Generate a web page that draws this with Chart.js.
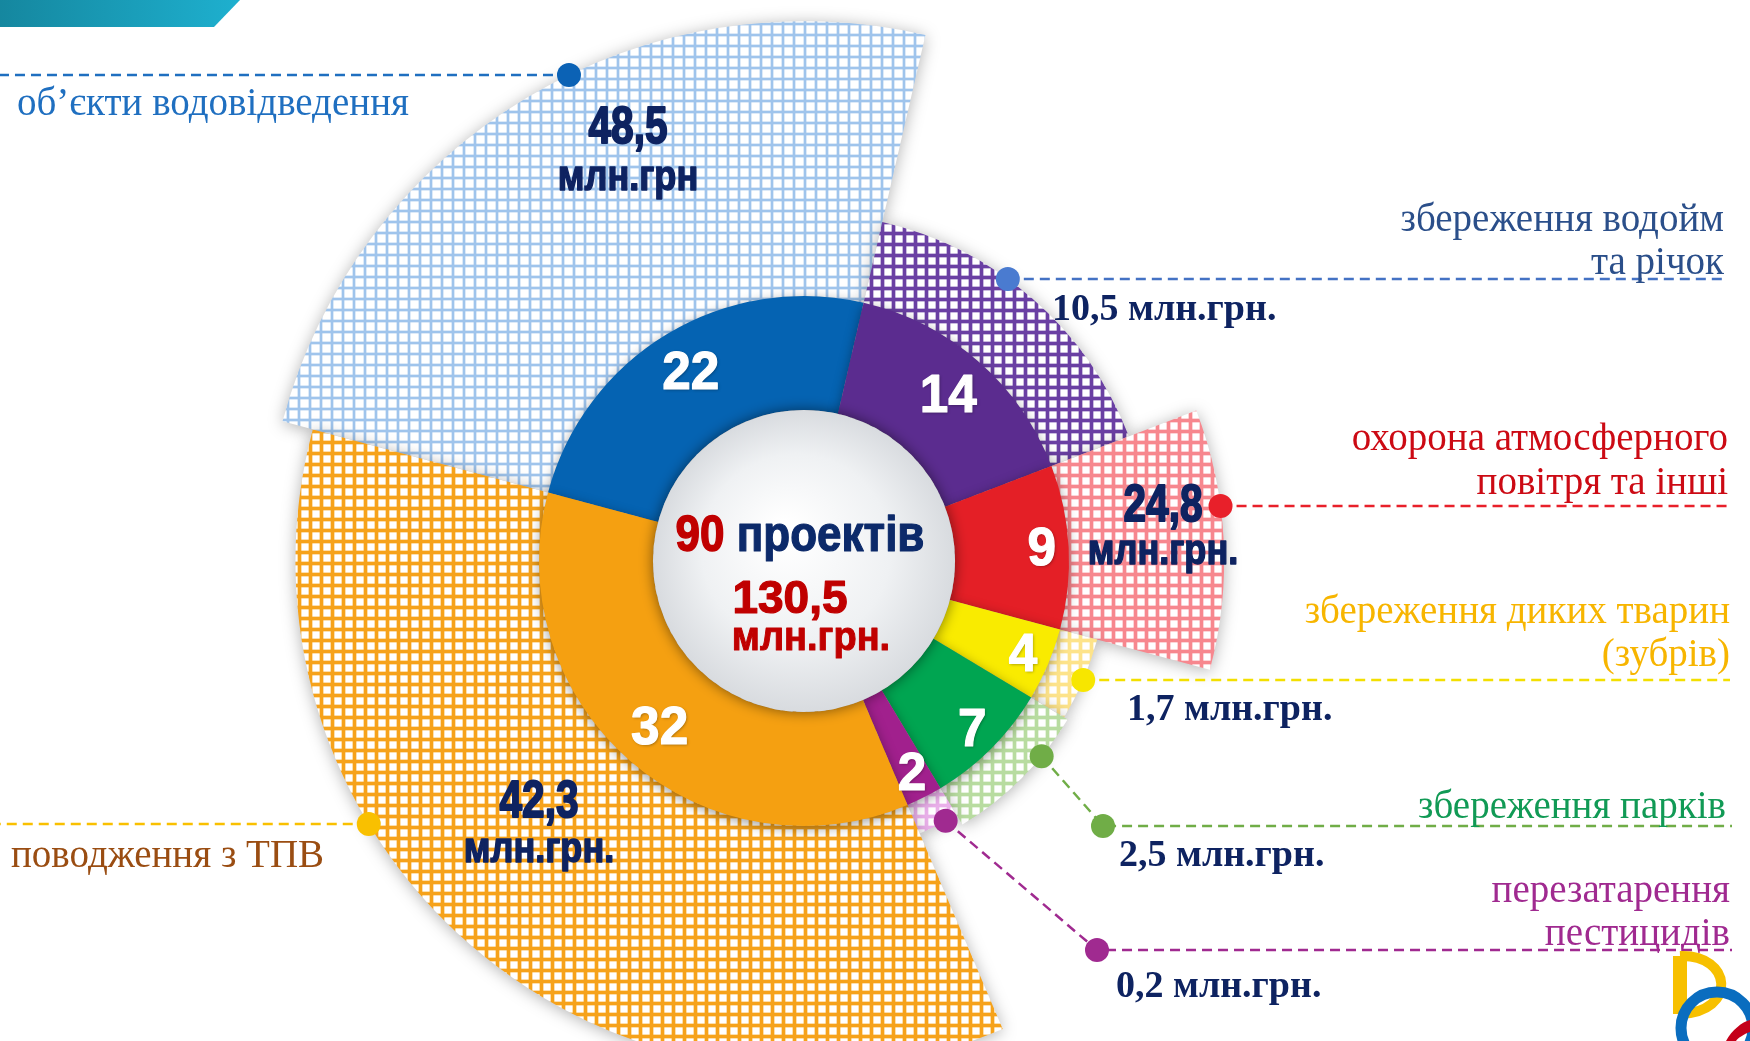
<!DOCTYPE html>
<html lang="uk">
<head>
<meta charset="utf-8">
<title>Проекти та фінансування</title>
<script src="https://cdn.jsdelivr.net/npm/chart.js@4.4.1/dist/chart.umd.min.js"></script>
<style>
  html, body { margin: 0; padding: 0; background: #ffffff; overflow: hidden; }
  #stage { position: relative; width: 1750px; height: 1041px; overflow: hidden; background: #ffffff; }
  .layer { position: absolute; left: 0; top: 0; width: 1750px; height: 1041px; }
  #banner { position: absolute; left: 0; top: 0; width: 240px; height: 27px;
            background: linear-gradient(90deg, #15879f 0%, #1eb0cf 100%);
            clip-path: polygon(0 0, 240px 0, 214px 27px, 0 27px); }
  #logo { position: absolute; left: 1660px; top: 940px; }
</style>
</head>
<body>
<div id="stage">
  <div class="layer"><canvas id="fundingChart" width="1750" height="1041"></canvas></div>
  <div class="layer"><canvas id="projectsChart" width="1750" height="1041"></canvas></div>
  <div id="banner"></div>
  <svg id="logo" width="90" height="101" viewBox="0 0 90 101">
    <path d="M20 16 L20 74" stroke="#f7c000" stroke-width="14" fill="none"/>
    <path d="M20 16 C 72 14, 78 72, 20 74" stroke="#f7c000" stroke-width="10" fill="none"/>
    <circle cx="57" cy="88" r="36" stroke="#0a6dbf" stroke-width="11" fill="none"/>
    <path d="M66 101 C 72 90, 82 82, 90 80 L 90 92 C 84 94, 78 98, 76 101 Z" fill="#c4001a"/>
  </svg>
</div>
<script>
// Environmental programme: number of projects and funding (mln UAH) by direction
const categoryLines = [
  ['об’єкти водовідведення'],
  ['збереження водойм', 'та річок'],
  ['охорона атмосферного', 'повітря та інші'],
  ['збереження диких тварин', '(зубрів)'],
  ['збереження парків'],
  ['перезатарення', 'пестицидів'],
  ['поводження з ТПВ']
];
const projectCounts = [22, 14, 9, 4, 7, 2, 32];
const fundingMln = [48.5, 10.5, 24.8, 1.7, 2.5, 0.2, 42.3];
const unitLabels = ['млн.грн', 'млн.грн.', 'млн.грн.', 'млн.грн.', 'млн.грн.', 'млн.грн.', 'млн.грн.'];
const projectsWord = 'проектів';
const totalUnit = 'млн.грн.';

const totalProjects = projectCounts.reduce((a, b) => a + b, 0);
const totalFunding = fundingMln.reduce((a, b) => a + b, 0);
const fmt = v => v.toFixed(1).replace('.', ',');

// ---- styling ----
const ROTATION = -75;
const SERIF = '"Liberation Serif", "DejaVu Serif", serif';
const SANS = '"Liberation Sans", Arial, sans-serif';
const NAVY = '#0e2361';
const ringColors = ['#0563b2', '#5b2c8f', '#e41f26', '#f9eb00', '#00a551', '#a1208d', '#f5a011'];
const hatchColors = [['#9fc4ec', 2], ['#6a3fa3', 3], ['#f7878e', 3], ['#fde38a', 3], ['#b8dca0', 3], ['#eab0ea', 3], ['#f6a21a', 3]];
const chartPadding = { left: 324, right: 466, top: 81, bottom: 0 };

function hatch(color, lw) {
  const s = 11;
  const c = document.createElement('canvas');
  c.width = s; c.height = s;
  const g = c.getContext('2d');
  g.fillStyle = '#ffffff';
  g.fillRect(0, 0, s, s);
  g.fillStyle = color;
  g.globalAlpha = 0.35;
  g.fillRect(0, 0, s, lw + 2);
  g.fillRect(0, 0, lw + 2, s);
  g.globalAlpha = 1;
  g.fillRect(0, 1, s, lw);
  g.fillRect(1, 0, lw, s);
  return g.createPattern(c, 'repeat');
}

// draws a string, optionally squeezed horizontally and thickened with a stroke
function text(ctx, str, x, y, font, color, align, sx, baseline, heavy) {
  ctx.save();
  ctx.font = font;
  ctx.fillStyle = color;
  ctx.textAlign = align || 'left';
  ctx.textBaseline = baseline || 'alphabetic';
  ctx.translate(x, y);
  ctx.scale(sx || 1, 1);
  ctx.fillText(str, 0, 0);
  if (heavy) {
    ctx.shadowColor = 'transparent';
    ctx.strokeStyle = color;
    ctx.lineWidth = heavy;
    ctx.lineJoin = 'round';
    ctx.strokeText(str, 0, 0);
  }
  ctx.restore();
}

// leader lines, category names and amount captions around the outer sectors
const leaderLayout = [
  { anchorY: 75, side: 'left', lineEnd: 0, line: '#1f6fc0', dot: '#0b62b5',
    name: { x: 17, ys: [115], align: 'left', color: '#1f6fc0' },
    amount: { inside: true, x: 628, y: 143, y2: 190 } },
  { anchorY: 279, side: 'right', lineEnd: 1726, line: '#4472c4', dot: '#4a7bd0',
    name: { x: 1724, ys: [231, 274], align: 'right', color: '#2b4f8a' },
    amount: { x: 1052, y: 320 } },
  { anchorY: 506, side: 'right', lineEnd: 1732, line: '#e8202a', dot: '#e8202a',
    name: { x: 1728, ys: [450, 494], align: 'right', color: '#cc0a14' },
    amount: { inside: true, x: 1163, y: 521, y2: 564 } },
  { anchorY: 680, side: 'right', lineEnd: 1730, line: '#f3df00', dot: '#f7e600',
    name: { x: 1730, ys: [623, 666], align: 'right', color: '#f7b500' },
    amount: { x: 1127, y: 720 } },
  { anchorFrac: 0.3, elbow: { x: 1103, y: 826 }, lineEnd: 1732, line: '#70ad47', dot: '#70ad47',
    name: { x: 1726, ys: [818], align: 'right', color: '#119a55' },
    amount: { x: 1119, y: 866 } },
  { anchorFrac: 0.3, elbow: { x: 1097, y: 950 }, lineEnd: 1732, line: '#a02a90', dot: '#a02a90',
    name: { x: 1730, ys: [902, 945], align: 'right', color: '#a02a90' },
    amount: { x: 1116, y: 997 } },
  { anchorY: 824, side: 'left', lineEnd: 0, line: '#f9c000', dot: '#f9c000',
    name: { x: 11, ys: [867], align: 'left', color: '#9a4d12' },
    amount: { inside: true, x: 539, y: 817, y2: 862 } }
];

const sectorShadow = {
  id: 'sectorShadow',
  beforeDatasetsDraw(chart) {
    const c = chart.ctx;
    c.save();
    c.shadowColor = 'rgba(0,0,0,0.3)';
    c.shadowBlur = 16;
    c.shadowOffsetY = 2;
  },
  afterDatasetsDraw(chart) { chart.ctx.restore(); }
};

const leaders = {
  id: 'leaders',
  afterDraw(chart) {
    const ctx = chart.ctx;
    const arcs = chart.getDatasetMeta(0).data;
    leaderLayout.forEach((spec, i) => {
      const p = arcs[i].getProps(['x', 'y', 'outerRadius', 'startAngle', 'endAngle'], true);
      let dot;
      if (spec.anchorY !== undefined) {
        const dy = spec.anchorY - p.y;
        const dx = Math.sqrt(Math.max(p.outerRadius * p.outerRadius - dy * dy, 0));
        dot = { x: p.x + (spec.side === 'left' ? -dx : dx), y: spec.anchorY };
      } else {
        const a = p.startAngle + spec.anchorFrac * (p.endAngle - p.startAngle);
        dot = { x: p.x + p.outerRadius * Math.cos(a), y: p.y + p.outerRadius * Math.sin(a) };
      }
      const pts = [dot];
      if (spec.elbow) pts.push(spec.elbow);
      const last = pts[pts.length - 1];
      pts.push({ x: spec.lineEnd, y: last.y });

      ctx.save();
      ctx.strokeStyle = spec.line;
      ctx.lineWidth = 2.5;
      ctx.setLineDash([10, 6]);
      ctx.beginPath();
      ctx.moveTo(pts[0].x, pts[0].y);
      for (let k = 1; k < pts.length; k++) ctx.lineTo(pts[k].x, pts[k].y);
      ctx.stroke();
      ctx.setLineDash([]);
      ctx.fillStyle = spec.dot;
      [dot].concat(spec.elbow ? [spec.elbow] : []).forEach(q => {
        ctx.beginPath();
        ctx.arc(q.x, q.y, 12, 0, Math.PI * 2);
        ctx.fill();
      });
      ctx.restore();

      categoryLines[i].forEach((ln, k) => {
        text(ctx, ln, spec.name.x, spec.name.ys[k], '39px ' + SERIF, spec.name.color, spec.name.align);
      });

      const a = spec.amount;
      if (a.inside) {
        text(ctx, fmt(fundingMln[i]), a.x, a.y, 'bold 52px ' + SANS, NAVY, 'center', 0.78, null, 2);
        text(ctx, unitLabels[i], a.x, a.y2, 'bold 42px ' + SANS, NAVY, 'center', 0.86, null, 1.5);
      } else {
        text(ctx, fmt(fundingMln[i]) + ' ' + unitLabels[i], a.x, a.y, 'bold 38px ' + SERIF, NAVY, 'left');
      }
    });
  }
};

const ringDecor = {
  id: 'ringDecor',
  beforeDatasetsDraw(chart) {
    const c = chart.ctx;
    c.save();
    c.shadowColor = 'rgba(0,0,0,0.38)';
    c.shadowBlur = 12;
    c.shadowOffsetY = 3;
  },
  afterDatasetsDraw(chart) {
    const ctx = chart.ctx;
    ctx.restore();
    const meta = chart.getDatasetMeta(0);
    const first = meta.data[0].getProps(['x', 'y', 'innerRadius', 'outerRadius'], true);
    const cx = first.x, cy = first.y, rIn = first.innerRadius;

    // centre disc
    ctx.save();
    ctx.shadowColor = 'rgba(0,0,0,0.5)';
    ctx.shadowBlur = 14;
    const grad = ctx.createRadialGradient(cx - 20, cy - 30, 10, cx, cy, rIn);
    grad.addColorStop(0, '#ffffff');
    grad.addColorStop(0.6, '#eff1f3');
    grad.addColorStop(1, '#d8dbdf');
    ctx.fillStyle = grad;
    ctx.beginPath();
    ctx.arc(cx, cy, rIn, 0, Math.PI * 2);
    ctx.fill();
    ctx.restore();

    // project counts on the ring; narrow segments carry their number further out
    meta.data.forEach((arc, i) => {
      const p = arc.getProps(['x', 'y', 'startAngle', 'endAngle', 'innerRadius', 'outerRadius'], true);
      const mid = (p.startAngle + p.endAngle) / 2;
      const span = p.endAngle - p.startAngle;
      const r = (p.innerRadius + p.outerRadius) / 2 + (span < 0.75 ? 30 : 12);
      ctx.save();
      ctx.shadowColor = 'rgba(0,0,0,0.35)';
      ctx.shadowBlur = 3;
      ctx.shadowOffsetX = 1;
      ctx.shadowOffsetY = 1;
      text(ctx, String(projectCounts[i]), p.x + r * Math.cos(mid), p.y + r * Math.sin(mid) + 2,
           'bold 54px ' + SANS, '#ffffff', 'center', 0.95, 'middle', 1.2);
      ctx.restore();
    });

    // totals in the centre
    ctx.save();
    ctx.font = 'bold 50px ' + SANS;
    const sx = 0.88;
    const numStr = String(totalProjects);
    const wNum = ctx.measureText(numStr + ' ').width * sx;
    const wAll = ctx.measureText(numStr + ' ' + projectsWord).width * sx;
    const x0 = cx - 4 - wAll / 2;
    ctx.restore();
    text(ctx, numStr, x0, cy - 10, 'bold 50px ' + SANS, '#c00000', 'left', sx, null, 1.5);
    text(ctx, projectsWord, x0 + wNum, cy - 10, 'bold 50px ' + SANS, '#0c2a6a', 'left', sx, null, 1.2);
    text(ctx, fmt(totalFunding), cx - 14, cy + 52, 'bold 46px ' + SANS, '#c00000', 'center', 1, null, 1.2);
    text(ctx, totalUnit, cx + 7, cy + 89, 'bold 40px ' + SANS, '#c00000', 'center', 0.95, null, 1);
  }
};

function build() {
  new Chart(document.getElementById('fundingChart'), {
    type: 'polarArea',
    data: {
      labels: categoryLines.map(l => l.join(' ')),
      datasets: [{
        data: fundingMln,
        backgroundColor: hatchColors.map(([c, w]) => hatch(c, w)),
        borderWidth: 0,
        clip: false,
        angle: ctx => projectCounts[ctx.dataIndex] / totalProjects * 360
      }]
    },
    options: {
      responsive: false,
      animation: false,
      devicePixelRatio: 1,
      layout: { padding: chartPadding },
      scales: { r: { display: false, min: -58.4, max: 36.65, startAngle: ROTATION } },
      plugins: { legend: { display: false }, tooltip: { enabled: false } }
    },
    plugins: [sectorShadow, leaders]
  });

  new Chart(document.getElementById('projectsChart'), {
    type: 'doughnut',
    data: {
      labels: categoryLines.map(l => l.join(' ')),
      datasets: [{ data: projectCounts, backgroundColor: ringColors, borderWidth: 0 }]
    },
    options: {
      responsive: false,
      animation: false,
      devicePixelRatio: 1,
      rotation: ROTATION,
      radius: 265,
      cutout: '57%',
      layout: { padding: chartPadding },
      plugins: { legend: { display: false }, tooltip: { enabled: false } }
    },
    plugins: [ringDecor]
  });
}

Promise.all([
  document.fonts.load('39px "Liberation Serif"'),
  document.fonts.load('bold 38px "Liberation Serif"'),
  document.fonts.load('bold 50px "Liberation Sans"')
]).then(build, build);
</script>
</body>
</html>
